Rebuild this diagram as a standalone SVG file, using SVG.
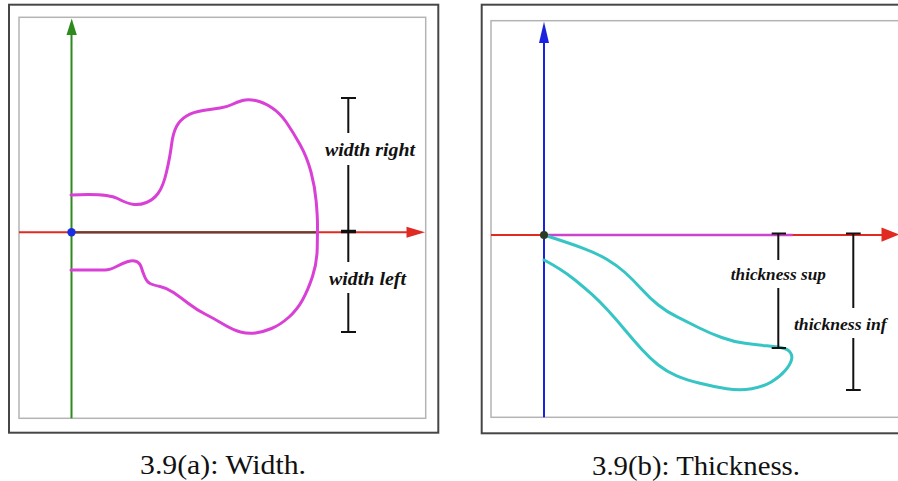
<svg xmlns="http://www.w3.org/2000/svg" width="898" height="481" viewBox="0 0 898 481">
<style>
.outer{fill:none;stroke:#464646;stroke-width:2}
.inner{fill:none;stroke:#b4b4b4;stroke-width:1.5}
.dim{stroke:#111;stroke-width:2;fill:none}
.lbl{font-family:"Liberation Serif",serif;font-weight:bold;font-style:italic;fill:#111}
.cap{font-family:"Liberation Serif",serif;font-size:27px;fill:#111}
</style>
<rect width="898" height="481" fill="#fff"/>
<g id="panel-a">
  <rect class="outer" x="9" y="4.7" width="429.3" height="428"/>
  <rect class="inner" x="19" y="17.3" width="406.7" height="401"/>
</g>
<g id="panel-b">
  <rect class="outer" x="481.7" y="4.7" width="430" height="428.6"/>
  <rect class="inner" x="491" y="20.7" width="420" height="396.6"/>
</g>
<g id="connectors">
  <!-- panel a axes -->
  <line x1="19" y1="232.3" x2="410" y2="232.3" stroke="#e02a22" stroke-width="2"/>
  <polygon points="406.5,226.8 425,232.3 406.5,237.8" fill="#e02a22"/>
  <line x1="71.5" y1="418.3" x2="71.5" y2="32" stroke="#2e8a1c" stroke-width="2"/>
  <polygon points="66.5,35 71.7,18.5 76.8,35" fill="#2e8a1c"/>
  <line x1="71.5" y1="232.3" x2="317" y2="232.3" stroke="#6b3c30" stroke-width="2.2"/>
  <path fill="none" stroke="#d940d6" stroke-width="3" stroke-linecap="round" stroke-linejoin="round" d="M 71,195 Q 107,193 117.5,198.5 Q 128,204 134,204.5 Q 140,205 146.5,202.5 Q 153,200 158,193.5 Q 163,187 166.5,172 Q 170,157 171.5,145 Q 173,133 176.5,126.5 Q 180,120 186.5,116 Q 193,112 203,110.5 Q 213,109 220,108 Q 227,107 232,104.5 Q 237,102 242.5,100.5 Q 248,99 255.5,100.5 Q 263,102 271.5,107.5 Q 280,113 286.5,122.5 Q 293,132 300,144.5 Q 307,157 311,172 Q 315,187 316.25,202 Q 317.5,217 317.5,224.5 Q 317.5,232 317.25,247.5 Q 317,263 312.5,276.5 Q 308,290 302.5,300 Q 297,310 288.5,317.5 Q 280,325 271.5,328.5 Q 263,332 255.5,333 Q 248,334 240.5,332 Q 233,330 223,324 Q 213,318 205,314 Q 197,310 188.5,303.5 Q 180,297 173.5,292.5 Q 167,288 160,286.5 Q 153,285 150,283.5 Q 147,282 145,277.5 Q 143,273 141.5,268 Q 140,263 136.5,261.5 Q 133,260 128,261.5 Q 123,263 116.5,266.5 Q 110,270 105,270 L 71,270"/>
  <circle cx="71.5" cy="232.3" r="4.2" fill="#1a2fe0"/>
  <!-- width dimension -->
  <path class="dim" d="M341,98 H356 M348.3,98 V133 M348.3,165 V262 M348.3,293 V332 M341,332 H356"/>
  <line x1="341" y1="231.5" x2="356" y2="231.5" stroke="#111" stroke-width="3.5"/>
  <!-- panel b axes -->
  <line x1="491" y1="235" x2="884" y2="235" stroke="#e02a22" stroke-width="2"/>
  <polygon points="881.5,227.5 899,234.5 881.5,241.7" fill="#e02a22"/>
  <line x1="544" y1="417.3" x2="544" y2="38" stroke="#1a22e0" stroke-width="2"/>
  <polygon points="539,43 544,21.7 549,43" fill="#1a22e0"/>
  <line x1="544" y1="235" x2="792.7" y2="235" stroke="#cc44cc" stroke-width="2.6"/>
  <path fill="none" stroke="#36c4c4" stroke-width="3" stroke-linecap="round" stroke-linejoin="round" d="M 544,235 Q 570,243.3 583.3,248.3 Q 596.7,253.3 606.7,259.2 Q 616.7,265 625,272.5 Q 633.3,280 641.7,289.2 Q 650,298.3 658.3,305 Q 666.7,311.7 676.7,316.7 Q 686.7,321.7 698.3,327.5 Q 710,333.3 721.7,337.5 Q 733.3,341.7 745,343.3 Q 756.7,345 766.7,345.8 Q 776.7,346.7 782.5,348 Q 788.3,349.3 790.5,352.7 Q 792.7,356 791.3,360.5 Q 790,365 785,370.8 Q 780,376.7 771.7,381.7 Q 763.3,386.7 751.7,388.7 Q 740,390.7 726.7,388.7 Q 713.3,386.7 700,383.3 Q 686.7,380 676.7,375.8 Q 666.7,371.7 658.3,365 Q 650,358.3 641.7,349.2 Q 633.3,340 625,330 Q 616.7,320 608.3,310.8 Q 600,301.7 591.7,294.2 Q 583.3,286.7 575,280 Q 566.7,273.3 560,269.2 Q 553.3,265 548.7,262.5 L 544,260"/>
  <circle cx="544" cy="235" r="4" fill="#2b3d22"/>
  <!-- thickness dimensions -->
  <path class="dim" d="M771.7,233.5 H786 M778.3,233.5 V260 M778.3,288 V348 M771.7,348 H786"/>
  <path class="dim" d="M846,233.5 H860.7 M853.3,233.5 V308 M853.3,338 V390 M846,390 H860.7"/>
</g>
<g id="labels">
  <text class="lbl" x="370" y="155.5" font-size="19.5" text-anchor="middle" textLength="90" lengthAdjust="spacingAndGlyphs">width right</text>
  <text class="lbl" x="367.5" y="285" font-size="19.5" text-anchor="middle" textLength="77" lengthAdjust="spacingAndGlyphs">width left</text>
  <text class="lbl" x="778.3" y="280" font-size="17.5" text-anchor="middle" textLength="95" lengthAdjust="spacingAndGlyphs">thickness sup</text>
  <text class="lbl" x="840.3" y="330" font-size="17.5" text-anchor="middle" textLength="92.7" lengthAdjust="spacingAndGlyphs">thickness inf</text>
</g>
<g id="captions">
  <text class="cap" x="140" y="474" textLength="166" lengthAdjust="spacingAndGlyphs">3.9(a): Width.</text>
  <text class="cap" x="592" y="474.5" textLength="208" lengthAdjust="spacingAndGlyphs">3.9(b): Thickness.</text>
</g>
</svg>
